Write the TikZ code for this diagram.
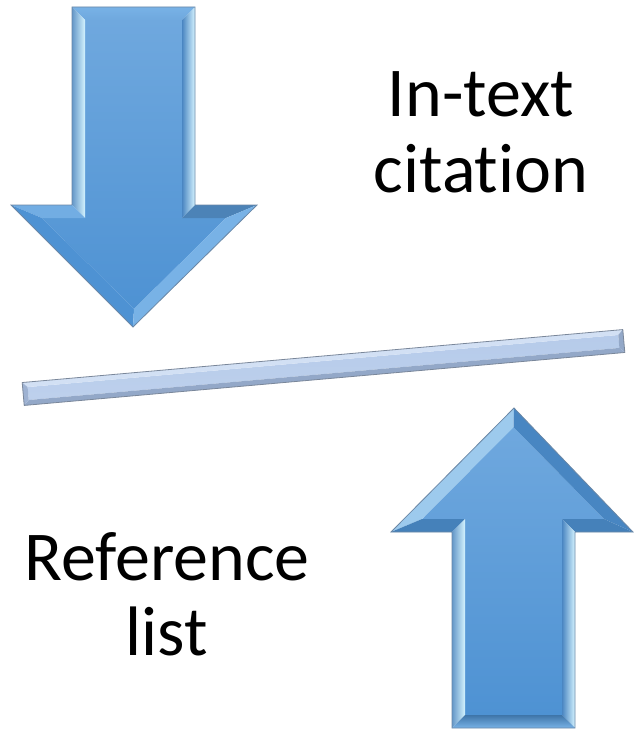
\documentclass[tikz,border=0pt]{standalone}
\usepackage{fontspec}
\setmainfont{Carlito}[Ligatures={NoCommon,NoContextual}]
\definecolor{faceTop}{HTML}{6FA8DE}
\definecolor{faceBot}{HTML}{4E92D3}
\definecolor{bevLight}{HTML}{D4F3FF}
\definecolor{bevMid}{HTML}{78B2E6}
\definecolor{bevDark}{HTML}{4A86C2}
\definecolor{arrOut}{HTML}{6A87A6}
\definecolor{barFace}{HTML}{B6CBEA}
\definecolor{barLight}{HTML}{D2E0F4}
\definecolor{barDark}{HTML}{93A8C8}
\definecolor{barOut}{HTML}{7A879A}
\tikzset{
  lbl/.style={font=\fontsize{70}{75}\selectfont, align=center, inner sep=0pt, text=black},
  outline/.style={draw=arrOut, line width=0.8pt, line join=miter},
}
\begin{document}
\begin{tikzpicture}[x=1pt,y=-1pt]
\useasboundingbox (0,0) rectangle (635,730);
\fill[white] (0,0) rectangle (635,730);

% ---------- down arrow ----------
\coordinate (dA) at (72,7);   \coordinate (dB) at (195,7);
\coordinate (dC) at (195,205);\coordinate (dD) at (257,205);
\coordinate (dE) at (133,327);\coordinate (dF) at (11,205);
\coordinate (dG) at (72,205);
\coordinate (da) at (85,20);  \coordinate (db) at (182,20);
\coordinate (dc) at (182,218);\coordinate (dd) at (226,218);
\coordinate (de) at (134,309);\coordinate (df) at (42,218);
\coordinate (dg) at (85,218);
% face
\shade[top color=faceTop, bottom color=faceBot]
  (da)--(db)--(dc)--(dd)--(de)--(df)--(dg)--cycle;
% bevel facets
\shade[top color=bevMid, bottom color=faceTop] (dA)--(dB)--(db)--(da)--cycle;
\shade[left color=faceTop!90!black, right color=bevLight] (dA)--(da)--(dg)--(dG)--cycle;
\shade[left color=bevDark, right color=bevLight] (dB)--(dC)--(dc)--(db)--cycle;
\fill[bevMid!85!faceBot] (dG)--(dg)--(df)--(dF)--cycle;
\fill[faceBot!85!black!95] (dC)--(dD)--(dd)--(dc)--cycle;
\fill[faceBot] (dF)--(df)--(de)--(dE)--cycle;
\fill[bevMid] (dD)--(dE)--(de)--(dd)--cycle;
\draw[outline] (dA)--(dB)--(dC)--(dD)--(dE)--(dF)--(dG)--cycle;

% ---------- up arrow ----------
\coordinate (uT) at (514,408);\coordinate (uR) at (633,532);
\coordinate (uS) at (575,532);\coordinate (uB) at (575,728);
\coordinate (uA) at (452,728);\coordinate (uQ) at (452,532);
\coordinate (uL) at (391,532);
\coordinate (ut) at (513.5,427);\coordinate (ur) at (604,519);
\coordinate (us) at (562,519);\coordinate (ub) at (562,715);
\coordinate (ua) at (465,715);\coordinate (uq) at (465,519);
\coordinate (ul) at (422,519);
\shade[top color=faceTop, bottom color=faceBot]
  (ut)--(ur)--(us)--(ub)--(ua)--(uq)--(ul)--cycle;
\fill[bevLight!45!faceTop] (uL)--(uT)--(ut)--(ul)--cycle;
\fill[faceBot!92!black] (uT)--(uR)--(ur)--(ut)--cycle;
\fill[faceBot!88!black] (uR)--(uS)--(us)--(ur)--cycle;
\fill[faceBot!88!black] (uQ)--(uL)--(ul)--(uq)--cycle;
\shade[left color=bevDark, right color=bevLight] (uS)--(uB)--(ub)--(us)--cycle;
\shade[left color=faceTop!90!black, right color=bevLight] (uQ)--(uq)--(ua)--(uA)--cycle;
\shade[top color=faceBot!80!black, bottom color=bevMid] (ua)--(ub)--(uB)--(uA)--cycle;
\draw[outline] (uT)--(uR)--(uS)--(uB)--(uA)--(uQ)--(uL)--cycle;

% ---------- bar ----------
\begin{scope}[shift={(323.5,367.5)}, rotate=5.04]
  \coordinate (bA) at (-301.5,-11.5); \coordinate (bB) at (301.5,-11.5);
  \coordinate (bC) at (301.5,11.5);   \coordinate (bD) at (-301.5,11.5);
  \coordinate (ba) at (-296.5,-6.5);  \coordinate (bb) at (296.5,-6.5);
  \coordinate (bc) at (296.5,6.5);    \coordinate (bd) at (-296.5,6.5);
  \shade[top color=barFace, bottom color=barFace!90!white] (ba)--(bb)--(bc)--(bd)--cycle;
  \fill[barLight] (bA)--(bB)--(bb)--(ba)--cycle;
  \fill[barDark] (bD)--(bd)--(bc)--(bC)--cycle;
  \fill[barDark!70!barFace] (bA)--(ba)--(bd)--(bD)--cycle;
  \fill[barDark] (bB)--(bC)--(bc)--(bb)--cycle;
  \draw[draw=barOut, line width=0.8pt] (bA)--(bB)--(bC)--(bD)--cycle;
\end{scope}

% ---------- labels ----------
\node[lbl, anchor=base] (cite) at (481,192) {In-text\\citation};
\node[lbl, anchor=base] (ref) at (167,655) {Reference\\list};
\end{tikzpicture}
\end{document}
